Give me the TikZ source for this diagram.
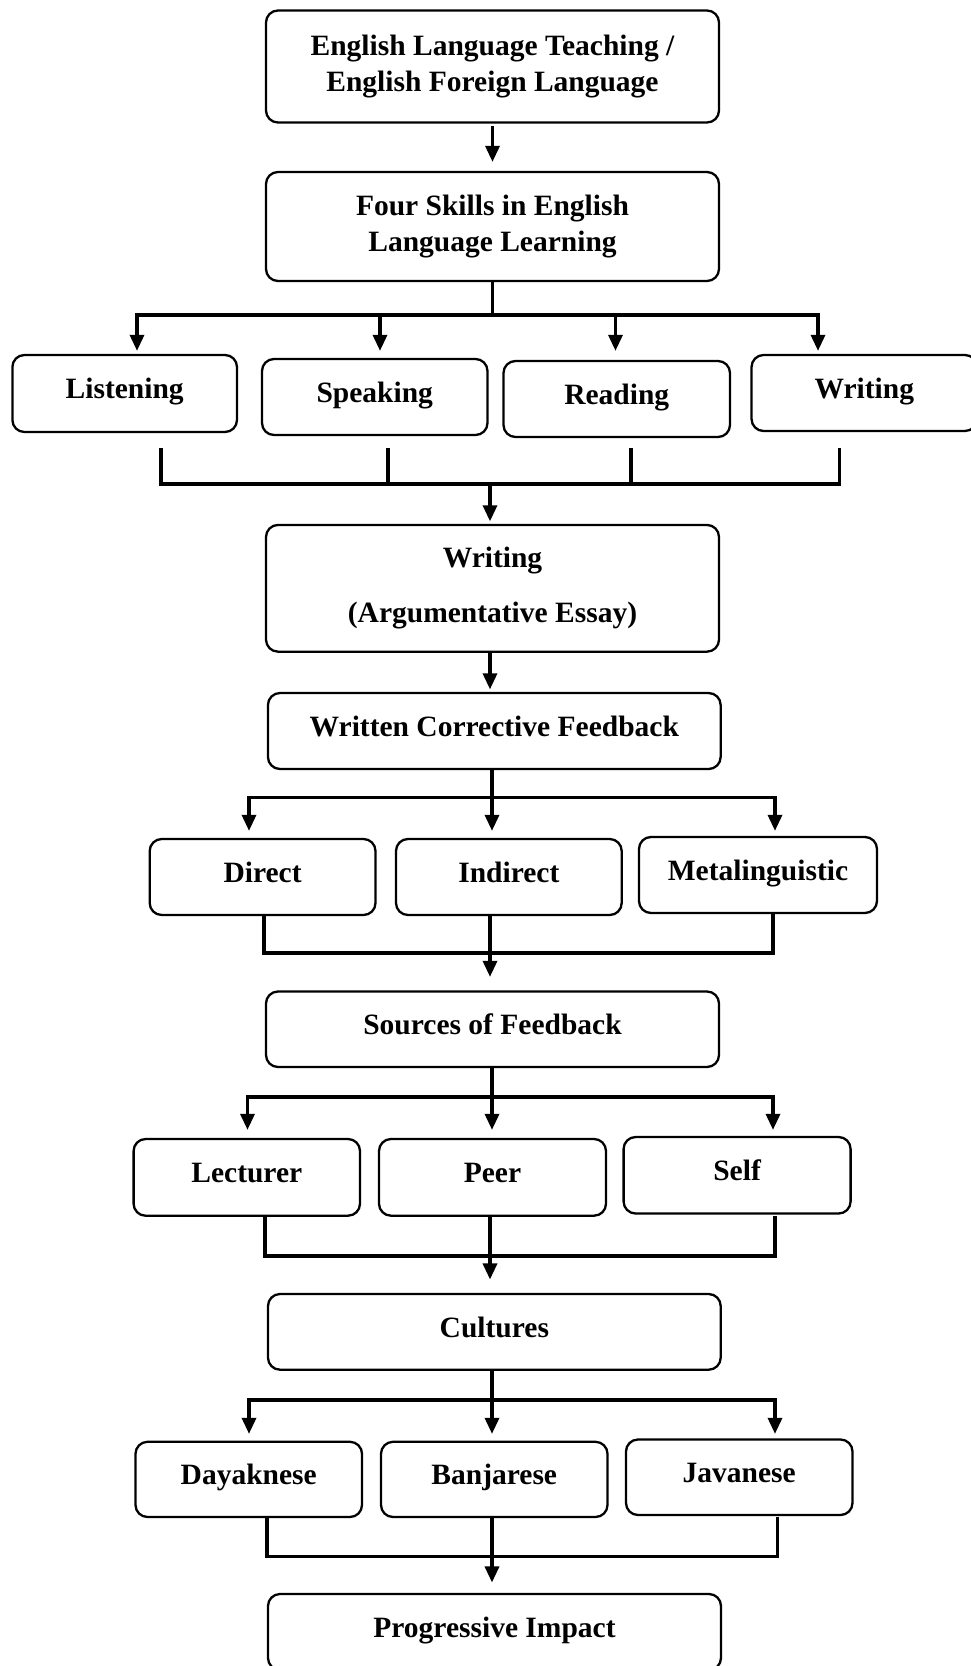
\documentclass[tikz,border=0pt]{standalone}
\usepackage{fontspec}
\setmainfont{Liberation Serif}
\usetikzlibrary{arrows.meta}
\begin{document}
\begin{tikzpicture}[x=1pt,y=-1pt,
  box/.style={draw, line width=2.3pt, rounded corners=12pt, inner sep=0pt, align=center,
    font=\bfseries\fontsize{29.5}{36}\selectfont},
  one/.style={box, text height=21pt, text depth=10.6pt},
  conn/.style={line width=3.3pt, line cap=rect},
  arr/.style={conn, -{Triangle[length=16pt,width=14pt]}},
  arrb/.style={conn, {Triangle[length=16pt,width=14pt]}-{Triangle[length=16pt,width=14pt]}}
]
\useasboundingbox (0,0) rectangle (970,1666);
\fill[white] (0,0) rectangle (970,1666);

% boxes
\node[box, minimum width=453pt, minimum height=112pt] (b1) at (492.5,66.5) {English Language Teaching /\\English Foreign Language};
\node[box, minimum width=453pt, minimum height=109pt] (b2) at (492.5,226.5) {Four Skills in English\\Language Learning};

\node[one, minimum width=224.6pt, minimum height=77pt] (L) at (124.7,393.5) {Listening};
\node[one, minimum width=225.5pt, minimum height=76pt] (S) at (374.75,397) {Speaking};
\node[one, minimum width=226.5pt, minimum height=76pt] (R) at (616.75,399) {Reading};
\node[one, minimum width=225.5pt, minimum height=76pt] (W) at (864.3,393) {Writing};

\node[box, minimum width=453pt, minimum height=126.7pt] (W2) at (492.5,588.3) {Writing\\[19pt](Argumentative Essay)};
\node[one, minimum width=452.7pt, minimum height=76pt] (WCF) at (494.3,731) {Written Corrective Feedback};

\node[one, minimum width=225.8pt, minimum height=76pt] (D) at (262.6,877) {Direct};
\node[one, minimum width=225.7pt, minimum height=76pt] (I) at (508.85,877) {Indirect};
\node[one, minimum width=238pt, minimum height=76pt] (M) at (758,875) {Metalinguistic};

\node[one, minimum width=453pt, minimum height=75.5pt] (SF) at (492.5,1029.25) {Sources of Feedback};

\node[one, minimum width=226.4pt, minimum height=76.7pt] (Le) at (246.8,1177.35) {Lecturer};
\node[one, minimum width=227pt, minimum height=76.7pt] (P) at (492.5,1177.35) {Peer};
\node[one, minimum width=227pt, minimum height=76.5pt] (Se) at (737.1,1175.25) {Self};

\node[one, minimum width=452.7pt, minimum height=75.7pt] (C) at (494.35,1331.85) {Cultures};

\node[one, minimum width=226.5pt, minimum height=75.2pt] (Da) at (248.75,1479.4) {Dayaknese};
\node[one, minimum width=226.5pt, minimum height=75.2pt] (Ba) at (494.25,1479.4) {Banjarese};
\node[one, minimum width=226.5pt, minimum height=75.5pt] (Ja) at (739.25,1477.25) {Javanese};

\node[one, minimum width=453pt, minimum height=76pt] (PI) at (494.5,1632) {Progressive Impact};

% b1 -> b2
\draw[arr, shorten <=4pt, shorten >=9pt] (b1) -- (b2);

% row 1 split
\coordinate (t1) at (492.5,315);
\coordinate (t1a) at (137,315);
\coordinate (t1b) at (380,315);
\coordinate (t1c) at (615.5,315);
\coordinate (t1d) at (818,315);
\draw[conn] (b2.south) -- (t1);
\draw[arrb, shorten <=3pt, shorten >=3pt] (t1a |- L.north) -- (t1a) -- (t1d) -- (t1d |- W.north);
\draw[arr, shorten >=7pt] (t1b) -- (t1b |- S.north);
\draw[arr, shorten >=9pt] (t1c) -- (t1c |- R.north);

% row 1 join
\coordinate (u1a) at (161,450);
\coordinate (u1b) at (388,450);
\coordinate (u1c) at (631,450);
\coordinate (u1d) at (839.5,450);
\coordinate (v1a) at (161,484);
\coordinate (v1b) at (388,484);
\coordinate (v1c) at (631,484);
\coordinate (v1d) at (839.5,484);
\coordinate (j1) at (490,484);
\draw[conn] (u1a) -- (v1a) -- (v1d) -- (u1d);
\draw[conn] (u1b) -- (v1b);
\draw[conn] (u1c) -- (v1c);
\draw[arr, shorten >=2.5pt] (j1) -- (j1 |- W2.north);

% W2 -> WCF
\coordinate (k1) at (490,651.7);
\draw[arr, shorten <=2.5pt, shorten >=2.5pt] (k1) -- (k1 |- WCF.north);

% row 2 split
\coordinate (t2) at (492,797.7);
\coordinate (t2a) at (249,797.7);
\coordinate (t2c) at (775,797.7);
\draw[conn] (t2 |- WCF.south) -- (t2);
\draw[arrb, shorten <=7pt, shorten >=5pt] (t2a |- D.north) -- (t2a) -- (t2c) -- (t2c |- M.north);
\draw[arr, shorten >=7pt] (t2) -- (t2 |- I.north);

% row 2 join
\coordinate (v2a) at (264,953);
\coordinate (v2c) at (773,953);
\coordinate (j2) at (490,953);
\draw[conn] (v2a |- D.south) -- (v2a) -- (v2c) -- (v2c |- M.south);
\draw[arr, shorten >=13.5pt] (j2 |- I.south) -- (j2 |- SF.north);

% row 3 split
\coordinate (t3) at (492,1097);
\coordinate (t3a) at (247.5,1097);
\coordinate (t3c) at (773,1097);
\draw[conn] (t3 |- SF.south) -- (t3);
\draw[arrb, shorten <=8pt, shorten >=6pt] (t3a |- Le.north) -- (t3a) -- (t3c) -- (t3c |- Se.north);
\draw[arr, shorten >=8pt] (t3) -- (t3 |- P.north);

% row 3 join
\coordinate (u3a) at (265,1218);
\coordinate (u3c) at (775,1218);
\coordinate (v3a) at (265,1256);
\coordinate (v3c) at (775,1256);
\coordinate (j3) at (490,1218);
\draw[conn] (u3a) -- (v3a) -- (v3c) -- (u3c);
\draw[arr, shorten >=13.4pt] (j3) -- (j3 |- C.north);

% row 4 split
\coordinate (t4) at (492,1400);
\coordinate (t4a) at (249,1400);
\coordinate (t4c) at (775,1400);
\draw[conn] (t4 |- C.south) -- (t4);
\draw[arrb, shorten <=6.8pt, shorten >=4.5pt] (t4a |- Da.north) -- (t4a) -- (t4c) -- (t4c |- Ja.north);
\draw[arr, shorten >=6.8pt] (t4) -- (t4 |- Ba.north);

% row 4 join
\coordinate (u4a) at (267,1519);
\coordinate (u4c) at (777.6,1519);
\coordinate (v4a) at (267,1556.6);
\coordinate (v4c) at (777.6,1556.6);
\coordinate (j4) at (492,1519);
\draw[conn] (u4a) -- (v4a) -- (v4c) -- (u4c);
\draw[arr, shorten >=10.4pt] (j4) -- (j4 |- PI.north);
\end{tikzpicture}
\end{document}
